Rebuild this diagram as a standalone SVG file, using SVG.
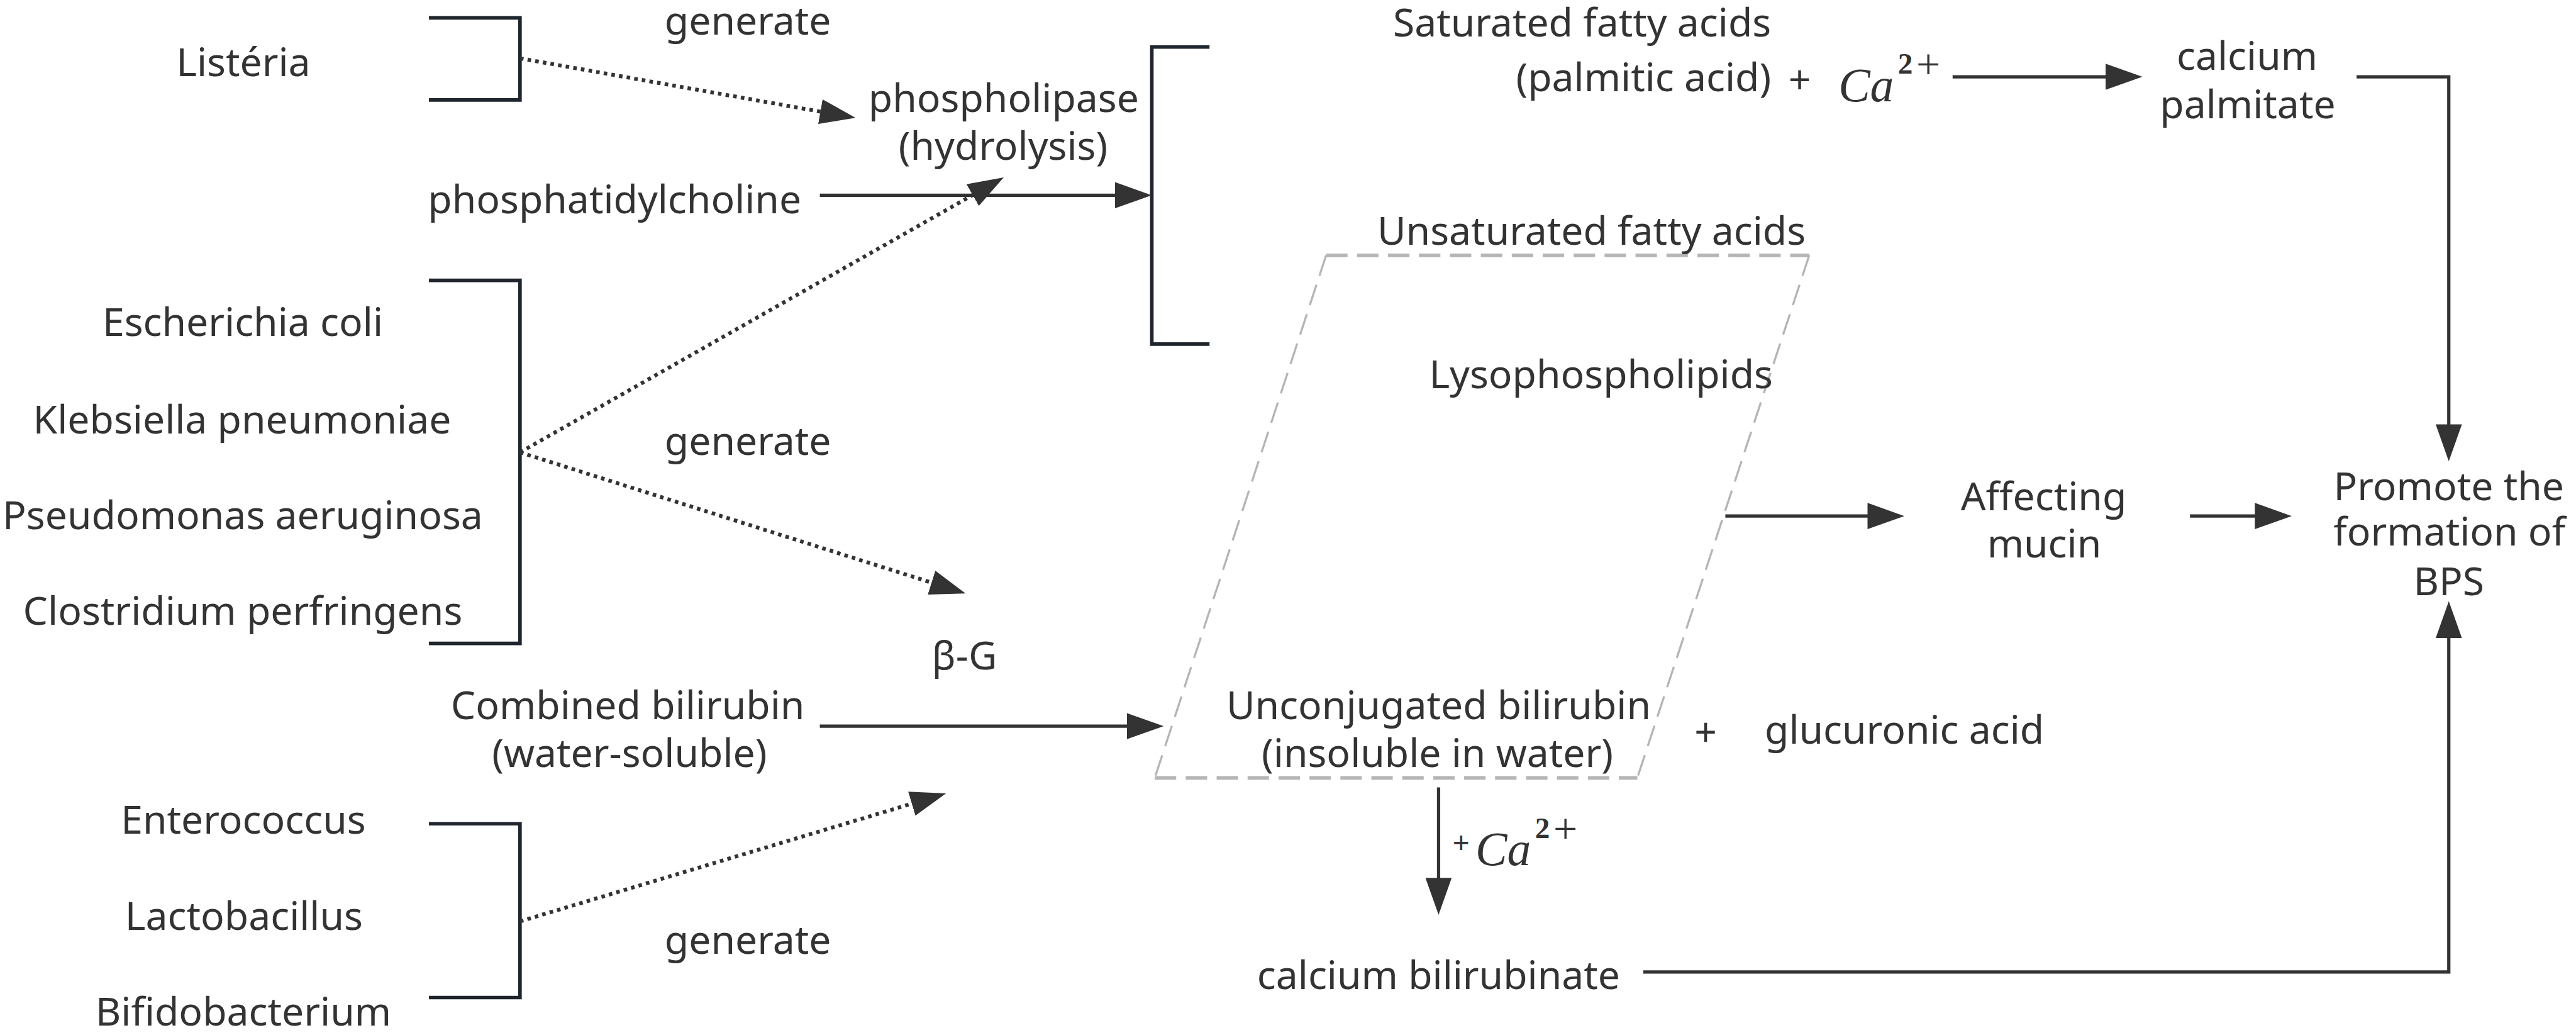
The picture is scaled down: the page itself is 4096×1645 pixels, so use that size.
<svg xmlns="http://www.w3.org/2000/svg" width="4096" height="1645" viewBox="0 0 4096 1645">
<style>
.t{font-family:"Noto Sans","Open Sans",sans-serif;font-size:66px;fill:#333;text-anchor:middle}
.te{text-anchor:end}
.m{font-family:"Liberation Serif",serif;font-style:italic;font-size:80px;fill:#333}
.s2{font-family:"Liberation Serif",serif;font-weight:bold;font-size:50px;fill:#333}
.sp{font-family:"Liberation Serif",serif;font-size:72px;fill:#333}
.br{fill:none;stroke:#1f252d;stroke-width:6}
.ln{fill:none;stroke:#333;stroke-width:5.5;marker-end:url(#ah)}
.dt{fill:none;stroke:#333;stroke-width:6.5;stroke-dasharray:6 7;marker-end:url(#dh)}
.pg{fill:none;stroke:#b5b5b5;stroke-dasharray:36 16}
</style>
<defs>
<marker id="ah" viewBox="0 0 62 44" refX="2" refY="22" markerWidth="62" markerHeight="44" markerUnits="userSpaceOnUse" orient="auto"><path d="M0,0 L62,22 L0,44 Z" fill="#333"/></marker>
<marker id="dh" viewBox="0 0 60 42" refX="2" refY="21" markerWidth="60" markerHeight="42" markerUnits="userSpaceOnUse" orient="auto"><path d="M0,0 L60,21 L0,42 Z" fill="#333"/></marker>
</defs>
<rect width="4096" height="1645" fill="#fff"/>
<g transform="scale(0.946)">
<g id="listeria"><text class="t" x="409" y="128">Listéria</text><path class="br" d="M721,30 H874 V168 H721"/></g>
<g id="gen1"><text class="t" x="1257" y="58">generate</text></g>
<g id="phosphatidylcholine"><text class="t" x="1033" y="358">phosphatidylcholine</text></g>
<g id="bacteria1"><text class="t" x="408" y="565">Escherichia coli</text><text class="t" x="407" y="728">Klebsiella pneumoniae</text><text class="t" x="408" y="889">Pseudomonas aeruginosa</text><text class="t" x="408" y="1050">Clostridium perfringens</text><path class="br" d="M721,471 H874 V1081 H721"/></g>
<g id="gen2"><text class="t" x="1257" y="764">generate</text></g>
<g id="phospholipase"><text class="t" x="1687" y="188">phospholipase</text><text class="t" x="1686" y="268">(hydrolysis)</text></g>
<g id="products"><path class="br" d="M2033,79 H1936 V578 H2033"/></g>
<g id="bg"><text class="t" x="1621" y="1125">β-G</text></g>
<g id="combined"><text class="t" x="1055" y="1208">Combined bilirubin</text><text class="t" x="1058" y="1289">(water-soluble)</text></g>
<g id="bacteria2"><text class="t" x="409" y="1401">Enterococcus</text><text class="t" x="410" y="1562">Lactobacillus</text><text class="t" x="409" y="1723">Bifidobacterium</text><path class="br" d="M721,1384 H874 V1676 H721"/></g>
<g id="gen3"><text class="t" x="1257" y="1603">generate</text></g>
<g id="saturated"><text class="t te" x="2977" y="61">Saturated fatty acids</text><text class="t te" x="2977" y="153">(palmitic acid)</text><text class="t" x="3025" y="158">+</text><text class="m" x="3090" y="170">Ca</text><text class="s2" x="3190" y="124">2</text><text class="sp" x="3221" y="132">+</text></g>
<g id="palmitate"><text class="t" x="3777" y="117">calcium</text><text class="t" x="3778" y="199">palmitate</text></g>
<g id="parallelogram"><path class="pg" stroke-width="6" d="M2229,429 H3041"/><path class="pg" stroke-width="6" d="M1941,1307 H2752"/><path class="pg" stroke-width="3.5" d="M2229,429 L1941,1307"/><path class="pg" stroke-width="3.5" d="M3041,429 L2752,1307"/><text class="t" x="2675" y="411">Unsaturated fatty acids</text><text class="t" x="2691" y="652">Lysophospholipids</text><text class="t" x="2418" y="1208">Unconjugated bilirubin</text><text class="t" x="2416" y="1289">(insoluble in water)</text></g>
<g id="glucuronic"><text class="t" x="2867" y="1254">+</text><text class="t" x="3201" y="1249">glucuronic acid</text></g>
<g id="mucin"><text class="t" x="3435" y="857">Affecting</text><text class="t" x="3436" y="937">mucin</text></g>
<g id="bps"><text class="t" x="4116" y="840">Promote the</text><text class="t" x="4117" y="917">formation of</text><text class="t" x="4116" y="1000">BPS</text></g>
<g id="cabil"><text class="t" x="2418" y="1662">calcium bilirubinate</text></g>
<g id="ca-label"><text class="t" x="2456" y="1433" style="font-size:50px">+</text><text class="m" x="2480" y="1454">Ca</text><text class="s2" x="2580" y="1408">2</text><text class="sp" x="2611" y="1416">+</text></g>
<g id="connectors">
<path class="dt" d="M874,98 L1380.9,187.9"/>
<path class="dt" d="M874,760 L1636.6,326.7"/>
<path class="dt" d="M874,760 L1567.7,979.5"/>
<path class="dt" d="M874,1548 L1534.5,1349.7"/>
<path class="ln" d="M1378,328 H1876"/>
<path class="ln" d="M3282,129 H3541"/>
<path class="ln" d="M3961,129 H4116 V715"/>
<path class="ln" d="M2900,867 H3141"/>
<path class="ln" d="M3681,867 H3792"/>
<path class="ln" d="M1378,1220 H1896"/>
<path class="ln" d="M2418,1323 V1477"/>
<path class="ln" d="M2762,1633 H4116 V1070"/>
</g>
</g>
</svg>
